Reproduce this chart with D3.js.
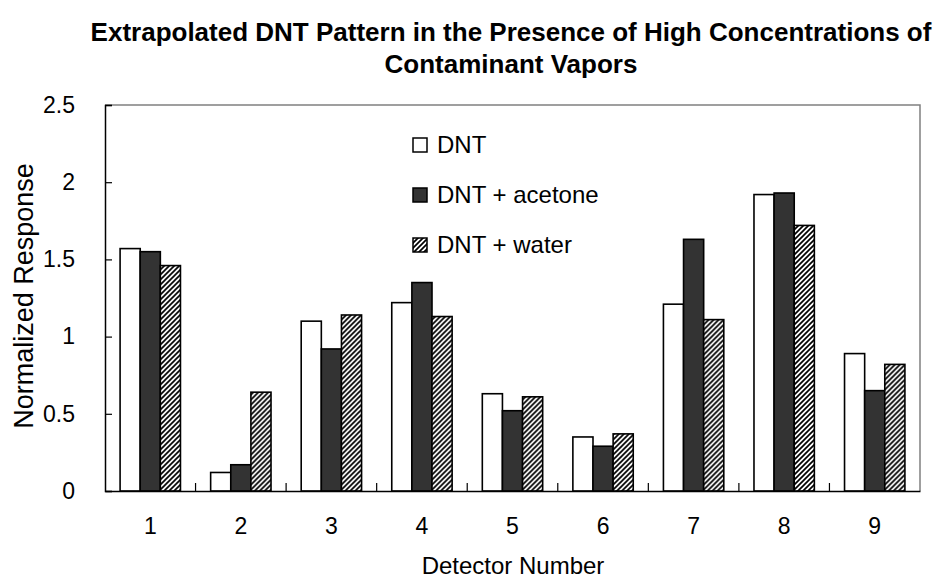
<!DOCTYPE html>
<html>
<head>
<meta charset="utf-8">
<script src="https://cdn.jsdelivr.net/npm/d3@7"></script>
<style>
  body { margin: 0; background: #fff; }
  text { font-family: Arial, "Liberation Sans", sans-serif; fill: #000; }
</style>
</head>
<body>
<div id="chart"></div>
<script>
// Extrapolated DNT pattern, grouped bars per detector

const detectors = ["1", "2", "3", "4", "5", "6", "7", "8", "9"];
const seriesNames = ["DNT", "DNT + acetone", "DNT + water"];
const dnt = [1.57, 0.12, 1.10, 1.22, 0.63, 0.35, 1.21, 1.92, 0.89];
const dntAcetone = [1.55, 0.17, 0.92, 1.35, 0.52, 0.29, 1.63, 1.93, 0.65];
const dntWater = [1.46, 0.64, 1.14, 1.13, 0.61, 0.37, 1.11, 1.72, 0.82];
const yTicks = [0, 0.5, 1, 1.5, 2, 2.5];

const width = 946, height = 583;
const margin = { top: 105, right: 26, bottom: 92, left: 105 };
const innerW = width - margin.left - margin.right;
const innerH = height - margin.top - margin.bottom;

const svg = d3.select("#chart").append("svg")
    .attr("width", width)
    .attr("height", height);

// hatch pattern for the water series
const defs = svg.append("defs");
const pat = defs.append("pattern")
    .attr("id", "hatch")
    .attr("patternUnits", "userSpaceOnUse")
    .attr("width", 5)
    .attr("height", 5);
pat.append("rect").attr("width", 5).attr("height", 5).attr("fill", "#fff");
pat.append("path")
    .attr("d", "M-1,1 l2,-2 M0,5 l5,-5 M4,6 l2,-2")
    .attr("stroke", "#000")
    .attr("stroke-width", 1.7);

const fills = ["#ffffff", "#333333", "url(#hatch)"];
const allSeries = [dnt, dntAcetone, dntWater];

const g = svg.append("g")
    .attr("transform", `translate(${margin.left},${margin.top})`);

const x0 = d3.scaleBand().domain(detectors).range([0, innerW]).paddingInner(0).paddingOuter(0);
const barW = x0.bandwidth() / 4.5;
const y = d3.scaleLinear().domain([0, 2.5]).range([innerH, 0]);

// plot border (top and right grey)
g.append("path")
    .attr("d", `M0,0 H${innerW} V${innerH}`)
    .attr("fill", "none")
    .attr("stroke", "#808080")
    .attr("stroke-width", 1.5);

// bars
const rows = detectors.map((d, i) => ({ d, vals: allSeries.map(s => s[i]) }));
const groups = g.selectAll(".grp")
    .data(rows)
    .enter().append("g")
    .attr("transform", r => `translate(${x0(r.d) + x0.bandwidth() / 2 - 1.5 * barW},0)`);

groups.selectAll("rect")
    .data(r => r.vals.map((v, k) => ({ v, k })))
    .enter().append("rect")
    .attr("x", d => d.k * barW)
    .attr("y", d => y(d.v))
    .attr("width", barW)
    .attr("height", d => innerH - y(d.v))
    .attr("fill", d => fills[d.k])
    .attr("stroke", "#000")
    .attr("stroke-width", 1.6);

// y axis
const yAxis = g.append("g")
    .call(d3.axisLeft(y).tickValues(yTicks).tickSize(-7).tickPadding(30)
        .tickFormat(d3.format("")));
yAxis.select(".domain").attr("stroke", "#000").attr("stroke-width", 1.5);
yAxis.selectAll(".tick line").attr("stroke", "#000").attr("stroke-width", 1.2);
yAxis.selectAll(".tick text").style("font-size", "23px");

// x axis
const xAxis = g.append("g")
    .attr("transform", `translate(0,${innerH})`)
    .call(d3.axisBottom(x0).tickSize(0).tickPadding(27));
xAxis.select(".domain").attr("stroke", "#000").attr("stroke-width", 1.5);
xAxis.selectAll(".tick text").style("font-size", "23px");

// x ticks at category boundaries, pointing inward
g.append("g").selectAll("line")
    .data(detectors.slice(1))
    .enter().append("line")
    .attr("x1", d => x0(d)).attr("x2", d => x0(d))
    .attr("y1", innerH).attr("y2", innerH - 8)
    .attr("stroke", "#000").attr("stroke-width", 1.2);

// titles
svg.append("text")
    .attr("x", 511).attr("y", 41)
    .attr("text-anchor", "middle")
    .style("font-size", "26px").style("font-weight", "bold")
    .text("Extrapolated DNT Pattern in the Presence of High Concentrations of");
svg.append("text")
    .attr("x", 511).attr("y", 73)
    .attr("text-anchor", "middle")
    .style("font-size", "26px").style("font-weight", "bold")
    .text("Contaminant Vapors");

svg.append("text")
    .attr("transform", "translate(33,296) rotate(-90)")
    .attr("text-anchor", "middle")
    .style("font-size", "27px")
    .text("Normalized Response");

svg.append("text")
    .attr("x", 513).attr("y", 574)
    .attr("text-anchor", "middle")
    .style("font-size", "24px")
    .text("Detector Number");

// legend
const legend = svg.append("g").attr("transform", "translate(413,138)");
const items = legend.selectAll("g")
    .data(seriesNames)
    .enter().append("g")
    .attr("transform", (d, i) => `translate(0,${i * 50})`);
items.append("rect")
    .attr("width", 14).attr("height", 14)
    .attr("fill", (d, i) => fills[i])
    .attr("stroke", "#000").attr("stroke-width", 1.5);
items.append("text")
    .attr("x", 24).attr("y", 15)
    .style("font-size", "24px")
    .text(d => d);
</script>
</body>
</html>
